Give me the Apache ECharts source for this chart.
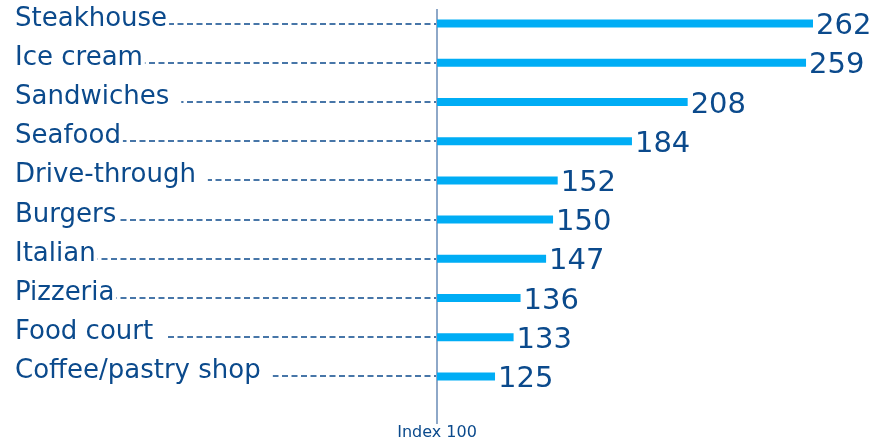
<!DOCTYPE html>
<html>
<head>
<meta charset="utf-8">
<script src="https://cdn.jsdelivr.net/npm/echarts@6/dist/echarts.min.js"></script>
<style>
  html, body { margin: 0; padding: 0; background: #fff; }
  #chart { width: 892px; height: 442px; }
</style>
</head>
<body>
<div id="chart"></div>
<script>
// Restaurant categories and their index values (100 = average)
const categories = [
  'Steakhouse', 'Ice cream', 'Sandwiches', 'Seafood', 'Drive-through',
  'Burgers', 'Italian', 'Pizzeria', 'Food court', 'Coffee/pastry shop'
];
const indexValues = [262, 259, 208, 184, 152, 150, 147, 136, 133, 125];
const baseline = 100;
const baselineLabel = 'Index 100';

const DARK = '#0b4a8c';
const BAR = '#00adf5';
const AXIS = '#8ea8c8';
const FONT = 'DejaVu Sans';
// gap (px) between each name and the start of its leader
const leaderGap = [2, 2, 12, 2, 12, 2, 2, 2, 12, 12];

const chart = echarts.init(document.getElementById('chart'), null, { renderer: 'canvas' });

chart.setOption({
  animation: false,
  grid: { left: 437, right: 79, top: 4, height: 392, containLabel: false },
  xAxis: {
    type: 'value', min: baseline, max: 262,
    show: false
  },
  yAxis: {
    type: 'category', data: categories, inverse: true,
    show: false
  },
  series: [
    {
      // category names with a dashed leader running to the baseline
      type: 'custom',
      data: categories.map((c, i) => [baseline, i]),
      renderItem: function (params, api) {
        const p = api.coord([baseline, api.value(1)]);
        const y = Math.round(p[1]);
        return {
          type: 'group',
          children: [
            {
              type: 'line',
              shape: { x1: 16, y1: y, x2: p[0], y2: y },
              style: { stroke: DARK, lineWidth: 1.6, lineDash: [6, 3.5] },
              silent: true
            },
            {
              type: 'text',
              x: 15, y: y - 5,
              style: {
                text: categories[params.dataIndex],
                font: '26px "' + FONT + '"',
                fill: DARK,
                verticalAlign: 'middle',
                align: 'left',
                backgroundColor: '#fff',
                padding: [0, leaderGap[params.dataIndex], 0, 0]
              },
              z2: 10
            }
          ]
        };
      },
      z: 1
    },
    {
      type: 'bar',
      data: indexValues,
      barWidth: 8,
      itemStyle: { color: BAR },
      label: {
        show: true,
        position: 'right',
        distance: 3,
        offset: [0, 3],
        color: DARK,
        fontFamily: FONT,
        fontSize: 29
      },
      z: 3
    }
  ]
});

// baseline rule and its caption
const bx = Math.round(chart.convertToPixel({ xAxisIndex: 0 }, baseline));
chart.setOption({
  graphic: [
    {
      type: 'line',
      shape: { x1: bx, y1: 9, x2: bx, y2: 424 },
      style: { stroke: AXIS, lineWidth: 2 },
      z: 2
    },
    {
      type: 'text',
      x: bx, y: 433,
      style: {
        text: baselineLabel,
        font: '16px "' + FONT + '"',
        fill: DARK,
        align: 'center',
        verticalAlign: 'middle'
      }
    }
  ]
});
</script>
</body>
</html>
